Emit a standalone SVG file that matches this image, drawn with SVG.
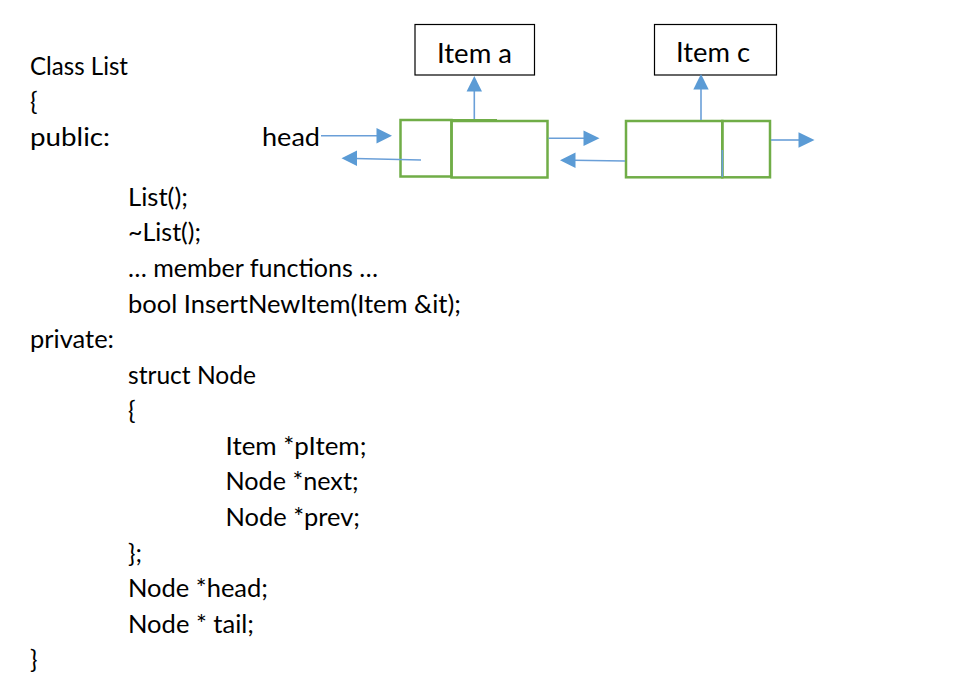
<svg xmlns="http://www.w3.org/2000/svg" width="964" height="688" viewBox="0 0 964 688">
<style>
  text { font-family: Lato, "Open Sans", "Liberation Sans", sans-serif; font-size: 25px; fill: #000; }
  .item { font-size: 26px; }
  .ibox { fill: #fff; stroke: #000; stroke-width: 1.2; }
  .nbox { fill: none; stroke: #70AD47; stroke-width: 2.5; }
  .link { fill: none; stroke: #6A9FD8; stroke-width: 1.6; }
  .ah { fill: #5B9BD5; }
</style>
<rect width="964" height="688" fill="#fff"/>

<g id="code">
  <text x="30" y="74.5" textLength="98" lengthAdjust="spacingAndGlyphs">Class List</text>
  <text x="30" y="110">{</text>
  <text x="30" y="146" textLength="80" lengthAdjust="spacingAndGlyphs">public:</text>
  <text x="128" y="205.7" textLength="60" lengthAdjust="spacingAndGlyphs">List();</text>
  <text x="128" y="241.3" textLength="73" lengthAdjust="spacingAndGlyphs">~List();</text>
  <text x="128" y="276.9" textLength="250" lengthAdjust="spacingAndGlyphs">… member functions …</text>
  <text x="128" y="312.5" textLength="333" lengthAdjust="spacingAndGlyphs">bool InsertNewItem(Item &amp;it);</text>
  <text x="30" y="348" textLength="84" lengthAdjust="spacingAndGlyphs">private:</text>
  <text x="128" y="383.6" textLength="128" lengthAdjust="spacingAndGlyphs">struct Node</text>
  <text x="128" y="419.2">{</text>
  <text x="225.5" y="454.8" textLength="141" lengthAdjust="spacingAndGlyphs">Item *pItem;</text>
  <text x="225.5" y="490.4" textLength="133" lengthAdjust="spacingAndGlyphs">Node *next;</text>
  <text x="225.5" y="526" textLength="134.5" lengthAdjust="spacingAndGlyphs">Node *prev;</text>
  <text x="128" y="561.6" textLength="14" lengthAdjust="spacingAndGlyphs">};</text>
  <text x="128" y="597.2" textLength="140" lengthAdjust="spacingAndGlyphs">Node *head;</text>
  <text x="128" y="632.8" textLength="126" lengthAdjust="spacingAndGlyphs">Node * tail;</text>
  <text x="30" y="668.4">}</text>
</g>

<g id="head-label">
  <text x="262" y="146" textLength="58" lengthAdjust="spacingAndGlyphs">head</text>
</g>

<g id="item-a">
  <rect class="ibox" x="415" y="24.5" width="119.5" height="50.5"/>
  <text class="item" x="437" y="62.5" textLength="75" lengthAdjust="spacingAndGlyphs">Item a</text>
</g>

<g id="item-c">
  <rect class="ibox" x="654.5" y="24.5" width="122" height="50.5"/>
  <text class="item" x="676" y="62" textLength="74" lengthAdjust="spacingAndGlyphs">Item c</text>
</g>

<g id="node-a">
  <rect class="nbox" x="400.5" y="120" width="51" height="56.5"/>
  <rect class="nbox" x="451.5" y="121" width="96" height="56.5"/>
  <line x1="451.5" y1="119.6" x2="497" y2="119.6" stroke="#70AD47" stroke-width="1.2"/>
</g>

<g id="node-c">
  <rect class="nbox" x="626" y="121" width="96.3" height="56.3"/>
  <rect class="nbox" x="722.3" y="121" width="47.7" height="56.3"/>
</g>

<g id="connectors">
  <!-- head -> node a -->
  <line class="link" x1="321" y1="135.7" x2="378" y2="135.7"/>
  <polygon class="ah" points="392,135.7 376.5,128 376.5,143.4"/>
  <!-- node a prev (leftwards) -->
  <line class="link" x1="421" y1="160" x2="355" y2="158.5"/>
  <polygon class="ah" points="341.5,158.3 357,150.6 357,166"/>
  <!-- node a -> up to Item a -->
  <line class="link" x1="474.3" y1="119" x2="474.3" y2="90"/>
  <polygon class="ah" points="474.3,76 466.6,91.5 482,91.5"/>
  <!-- node a next (rightwards) -->
  <line class="link" x1="548.5" y1="138.3" x2="585" y2="138.3"/>
  <polygon class="ah" points="599.5,138.3 583.5,130.6 583.5,146"/>
  <!-- node c prev (leftwards) -->
  <line class="link" x1="625" y1="161" x2="573" y2="160.3"/>
  <polygon class="ah" points="560,160.3 575.5,152.6 575.5,168"/>
  <!-- node c -> up to Item c -->
  <line class="link" x1="701" y1="120" x2="701" y2="88"/>
  <polygon class="ah" points="701,74 693.3,89.5 708.7,89.5"/>
  <!-- node c divider hint -->
  <line class="link" x1="722.3" y1="150" x2="722.3" y2="177"/>
  <!-- node c next (rightwards) -->
  <line class="link" x1="771" y1="140" x2="800" y2="140"/>
  <polygon class="ah" points="814.5,140 798.5,132.3 798.5,147.7"/>
</g>
</svg>
